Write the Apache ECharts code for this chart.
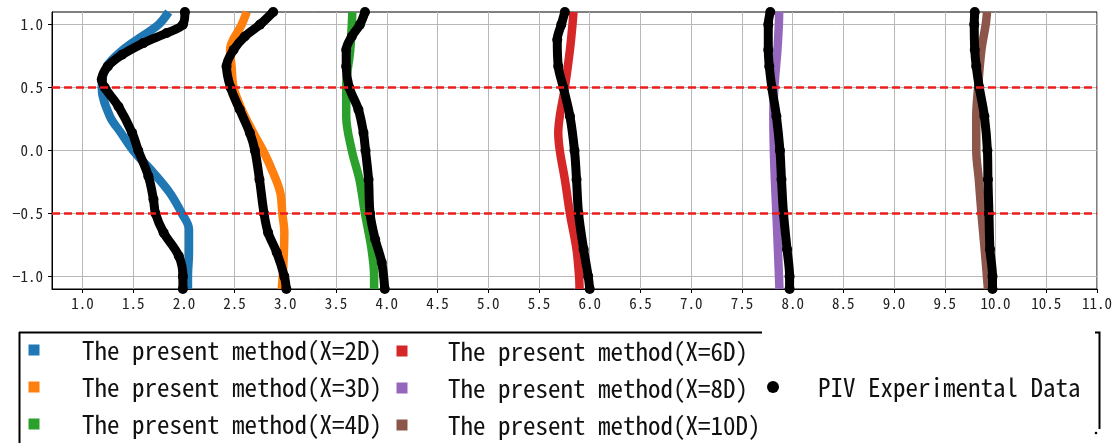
<!DOCTYPE html>
<html>
<head>
<meta charset="utf-8">
<script src="https://cdn.jsdelivr.net/npm/echarts@6/dist/echarts.min.js"></script>
<style>
  html, body { margin: 0; padding: 0; background: #fff; }
  #chart { width: 1118px; height: 443px; }
</style>
</head>
<body>
<div id="chart"></div>
<script>
// Axis ticks
const xTicks = [1.0, 1.5, 2.0, 2.5, 3.0, 3.5, 4.0, 4.5, 5.0, 5.5, 6.0, 6.5, 7.0, 7.5, 8.0, 8.5, 9.0, 9.5, 10.0, 10.5, 11.0];
const yTicks = [-1.0, -0.5, 0.0, 0.5, 1.0];
const refLines = [0.5, -0.5];

// Streamwise stations and their colours
const stations = ['X=2D', 'X=3D', 'X=4D', 'X=6D', 'X=8D', 'X=10D'];
const modelColors = ['#1f77b4', '#ff7f0e', '#2ca02c', '#d62728', '#9467bd', '#8c564b'];

// Present method profiles: [offset velocity, y/D]
const model2D = [[1.85, 1.1], [1.75, 1.0], [1.585, 0.906], [1.40, 0.80], [1.24, 0.668], [1.19, 0.5], [1.27, 0.272], [1.38, 0.14], [1.50, 0.0], [1.70, -0.177], [1.86, -0.335], [1.98, -0.5], [2.05, -0.626], [2.05, -0.81], [2.04, -1.0], [2.04, -1.1]];
const model3D = [[2.62, 1.1], [2.57, 1.0], [2.455, 0.80], [2.47, 0.668], [2.49, 0.5], [2.57, 0.325], [2.685, 0.14], [2.78, 0.0], [2.88, -0.177], [2.95, -0.335], [2.97, -0.5], [2.99, -0.652], [2.98, -0.917], [2.965, -1.1]];
const model4D = [[3.66, 1.1], [3.655, 1.0], [3.64, 0.80], [3.60, 0.5], [3.60, 0.272], [3.655, 0.0], [3.73, -0.23], [3.785, -0.5], [3.85, -0.785], [3.875, -1.0], [3.875, -1.1]];
const model6D = [[5.84, 1.1], [5.83, 1.0], [5.805, 0.80], [5.755, 0.5], [5.705, 0.272], [5.69, 0.14], [5.705, 0.0], [5.755, -0.23], [5.805, -0.5], [5.87, -0.785], [5.895, -1.0], [5.90, -1.1]];
const model8D = [[7.867, 1.1], [7.864, 1.0], [7.85, 0.80], [7.82, 0.5], [7.81, 0.272], [7.815, 0.0], [7.825, -0.23], [7.84, -0.5], [7.855, -0.785], [7.87, -1.1]];
const model10D = [[9.916, 1.1], [9.903, 1.0], [9.861, 0.80], [9.828, 0.5], [9.81, 0.272], [9.81, 0.0], [9.835, -0.23], [9.861, -0.5], [9.893, -0.785], [9.925, -1.1]];

// PIV measurements: [offset velocity, y/D]
const piv2D = [[2.01, 1.1], [1.99, 1.0], [1.83, 0.933], [1.60, 0.853], [1.39, 0.76], [1.25, 0.668], [1.19, 0.563], [1.22, 0.5], [1.355, 0.35], [1.49, 0.14], [1.55, 0.0], [1.65, -0.204], [1.70, -0.388], [1.72, -0.5], [1.80, -0.652], [1.95, -0.838], [1.99, -1.0], [1.99, -1.1]];
const piv3D = [[2.88, 1.1], [2.75, 1.0], [2.60, 0.906], [2.49, 0.80], [2.42, 0.668], [2.46, 0.5], [2.55, 0.325], [2.65, 0.14], [2.70, 0.0], [2.745, -0.23], [2.79, -0.5], [2.83, -0.652], [2.915, -0.81], [2.99, -1.0], [3.01, -1.1]];
const piv4D = [[3.785, 1.1], [3.735, 1.0], [3.655, 0.906], [3.60, 0.80], [3.60, 0.668], [3.63, 0.5], [3.72, 0.325], [3.77, 0.14], [3.79, 0.0], [3.82, -0.23], [3.835, -0.5], [3.885, -0.705], [3.95, -0.89], [3.98, -1.1]];
const piv6D = [[5.755, 1.1], [5.72, 1.0], [5.68, 0.88], [5.69, 0.668], [5.74, 0.5], [5.805, 0.272], [5.85, 0.0], [5.87, -0.23], [5.89, -0.5], [5.94, -0.785], [5.985, -1.0], [6.0, -1.1]];
const piv8D = [[7.78, 1.1], [7.76, 1.0], [7.76, 0.80], [7.77, 0.668], [7.795, 0.5], [7.84, 0.272], [7.875, 0.0], [7.89, -0.23], [7.91, -0.5], [7.945, -0.785], [7.97, -1.0], [7.97, -1.1]];
const piv10D = [[9.795, 1.1], [9.79, 1.0], [9.795, 0.80], [9.81, 0.668], [9.84, 0.5], [9.89, 0.272], [9.92, 0.0], [9.925, -0.23], [9.935, -0.5], [9.945, -0.785], [9.97, -1.0], [9.97, -1.1]];

const modelProfiles = [model2D, model3D, model4D, model6D, model8D, model10D];
const pivProfiles = [piv2D, piv3D, piv4D, piv6D, piv8D, piv10D];
const modelNames = stations.map(s => 'The present method(' + s + ')');
const pivName = 'PIV Experimental Data';

const tickFont = "'Noto Sans Mono CJK SC', 'Noto Sans CJK SC', 'DejaVu Sans Mono', monospace";
const fmt = v => (Math.round(v * 10) / 10).toFixed(1).replace('-', '\u2212');

const series = [];
modelProfiles.forEach((d, i) => {
  series.push({
    type: 'line', name: modelNames[i], data: d,
    smooth: 0.35, showSymbol: false, symbol: 'none',
    color: modelColors[i],
    lineStyle: { width: 8.5, color: modelColors[i] },
    itemStyle: { color: modelColors[i] },
    z: 2
  });
});
pivProfiles.forEach(d => {
  series.push({
    type: 'line', name: pivName, data: d,
    smooth: 0.35, symbol: 'circle', symbolSize: 10, showSymbol: true,
    color: '#000',
    lineStyle: { width: 9, color: '#000' },
    itemStyle: { color: '#000' },
    z: 3
  });
});
// dashed reference lines at y/D = +-0.5
series.push({
  type: 'line', name: 'ref', data: [], z: 10,
  markLine: {
    silent: true, symbol: 'none', label: { show: false },
    lineStyle: { color: '#ee1c1c', width: 2.6, type: [8, 4] },
    data: refLines.map(v => ({ yAxis: v }))
  }
});

const legendText = {
  fontFamily: "'Noto Sans Mono CJK SC', 'Liberation Mono', monospace",
  fontSize: 25, color: '#111', lineHeight: 26
};

const option = {
  animation: false,
  backgroundColor: '#fff',
  grid: { left: 52, right: 21, top: 12, bottom: 154, show: true, borderColor: '#000', borderWidth: 1, containLabel: false },
  xAxis: {
    type: 'value', min: 0.7, max: 11.0,
    axisLine: { show: true, onZero: false, lineStyle: { color: '#000', width: 1 } },
    axisTick: { show: true, inside: false, length: 4, customValues: xTicks, lineStyle: { color: '#000' } },
    axisLabel: { customValues: xTicks, formatter: fmt, margin: 7, fontSize: 15, color: '#222', fontFamily: tickFont },
    splitLine: { show: true, lineStyle: { color: '#b8b8b8', width: 1 } }
  },
  yAxis: {
    type: 'value', min: -1.1, max: 1.1,
    axisLine: { show: true, onZero: false, lineStyle: { color: '#000', width: 1 } },
    axisTick: { show: true, inside: false, length: 4, customValues: yTicks, lineStyle: { color: '#000' } },
    axisLabel: { customValues: yTicks, formatter: fmt, margin: 9, fontSize: 15, color: '#222', fontFamily: tickFont },
    splitLine: { show: true, lineStyle: { color: '#b8b8b8', width: 1 } }
  },
  legend: [
    { orient: 'vertical', left: 28.5, top: 337, padding: 0, itemGap: 11, itemWidth: 11, itemHeight: 11,
      icon: 'rect', selectedMode: false, data: modelNames.slice(0, 3),
      textStyle: Object.assign({}, legendText, { padding: [0, 0, 0, 37.5] }) },
    { orient: 'vertical', left: 396.5, top: 338, padding: 0, itemGap: 11, itemWidth: 11, itemHeight: 11,
      icon: 'rect', selectedMode: false, data: modelNames.slice(3, 6),
      textStyle: Object.assign({}, legendText, { padding: [0, 0, 0, 35.5] }) },
    { orient: 'vertical', left: 767, top: 374, padding: 0, itemWidth: 12, itemHeight: 12,
      icon: 'circle', selectedMode: false, data: [pivName],
      textStyle: Object.assign({}, legendText, { padding: [0, 0, 0, 34] }) }
  ],
  graphic: [
    // legend frame edges
    { type: 'line', shape: { x1: 19, y1: 332.5, x2: 762, y2: 332.5 }, style: { stroke: '#000', lineWidth: 2 } },
    { type: 'line', shape: { x1: 19.5, y1: 332, x2: 19.5, y2: 443 }, style: { stroke: '#000', lineWidth: 2 } },
    { type: 'polyline', shape: { points: [[1095, 332.5], [1099.5, 332.5], [1099.5, 429]] }, style: { stroke: '#000', lineWidth: 2, fill: null } },
    { type: 'circle', shape: { cx: 1096, cy: 433, r: 1.3 }, style: { fill: '#000' } }
  ],
  series: series
};

const chart = echarts.init(document.getElementById('chart'), null, { renderer: 'canvas' });
chart.setOption(option);
</script>
</body>
</html>
